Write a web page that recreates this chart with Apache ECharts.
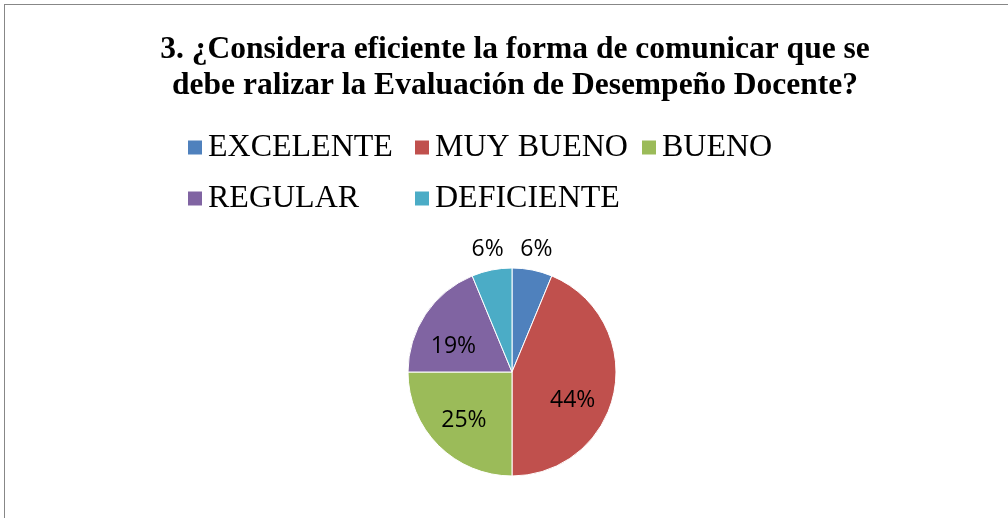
<!DOCTYPE html>
<html lang="es">
<head>
    <meta charset="UTF-8">
    <title>Evaluación de Desempeño Docente</title>
    <script src="https://cdn.jsdelivr.net/npm/echarts@6/dist/echarts.min.js"></script>
    <style>
        html, body { margin: 0; padding: 0; background: #fff; overflow: hidden; }
        #frame { position: absolute; left: 4px; top: 4px; width: 1100px; height: 600px;
                 border: 1px solid #878787; box-sizing: border-box; pointer-events: none; }
        #main { position: absolute; left: 0; top: 0; width: 1008px; height: 518px; }
    </style>
</head>
<body>
<div id="main"></div>
<div id="frame"></div>

<script type="text/javascript">
    const titleText = '3. ¿Considera eficiente la forma de comunicar que se\ndebe ralizar la Evaluación de Desempeño Docente?';
    const categories = ['EXCELENTE', 'MUY BUENO', 'BUENO', 'REGULAR', 'DEFICIENTE'];
    const respuestas = [1, 7, 4, 3, 1];
    const colores = ['#4F81BD', '#C0504D', '#9BBB59', '#8064A2', '#4BACC6'];

    const total = respuestas.reduce((a, b) => a + b, 0);
    const esPequeno = (v) => v / total < 0.1;

    function makeData(showFn) {
        return categories.map((name, i) => ({
            name: name,
            value: respuestas[i],
            label: { show: showFn(respuestas[i]) }
        }));
    }

    const labelStyle = {
        position: 'inside',
        formatter: '{d}%',
        color: '#000',
        fontFamily: 'Open Sans',
        fontSize: 23
    };

    let myChart = echarts.init(document.getElementById('main'));
    const option = {
        animation: false,
        color: colores,
        title: {
            text: titleText,
            left: 510,
            textAlign: 'center',
            top: 27,
            textStyle: {
                fontFamily: 'Liberation Serif',
                fontWeight: 'bold',
                fontSize: 31.5,
                lineHeight: 36,
                color: '#000'
            }
        },
        legend: {
            data: categories,
            left: 186,
            top: 122,
            width: 690,
            itemGap: 0,
            itemWidth: 16,
            itemHeight: 16,
            icon: 'rect',
            selectedMode: false,
            padding: 0,
            textStyle: {
                fontFamily: 'Liberation Serif',
                fontSize: 32,
                lineHeight: 51,
                width: 205,
                color: '#000'
            }
        },
        series: [
            {
                type: 'pie',
                center: [512, 372],
                radius: [0, 104],
                startAngle: 90,
                silent: true,
                label: { show: false },
                labelLine: { show: false },
                itemStyle: { borderColor: '#fff', borderWidth: 1 },
                data: categories.map((name, i) => ({ name: name, value: respuestas[i] }))
            },
            {
                // etiquetas interiores
                type: 'pie',
                center: [512, 372],
                radius: [0, 130],
                startAngle: 90,
                silent: true,
                percentPrecision: 0,
                itemStyle: { color: 'rgba(0,0,0,0)' },
                label: labelStyle,
                labelLine: { show: false },
                // Excel baja un poco las etiquetas de MUY BUENO y REGULAR
                labelLayout: function (p) {
                    if (p.dataIndex === 1) return { dx: -6, dy: 15 };
                    if (p.dataIndex === 3) return { dx: -2, dy: 12 };
                    return {};
                },
                data: makeData((v) => !esPequeno(v))
            },
            {
                // etiquetas exteriores para los sectores pequeños
                type: 'pie',
                center: [512, 372],
                radius: [0, 244],
                startAngle: 90,
                silent: true,
                percentPrecision: 0,
                itemStyle: { color: 'rgba(0,0,0,0)' },
                label: labelStyle,
                labelLine: { show: false },
                data: makeData((v) => esPequeno(v))
            }
        ]
    };
    myChart.setOption(option);
</script>
</body>
</html>
